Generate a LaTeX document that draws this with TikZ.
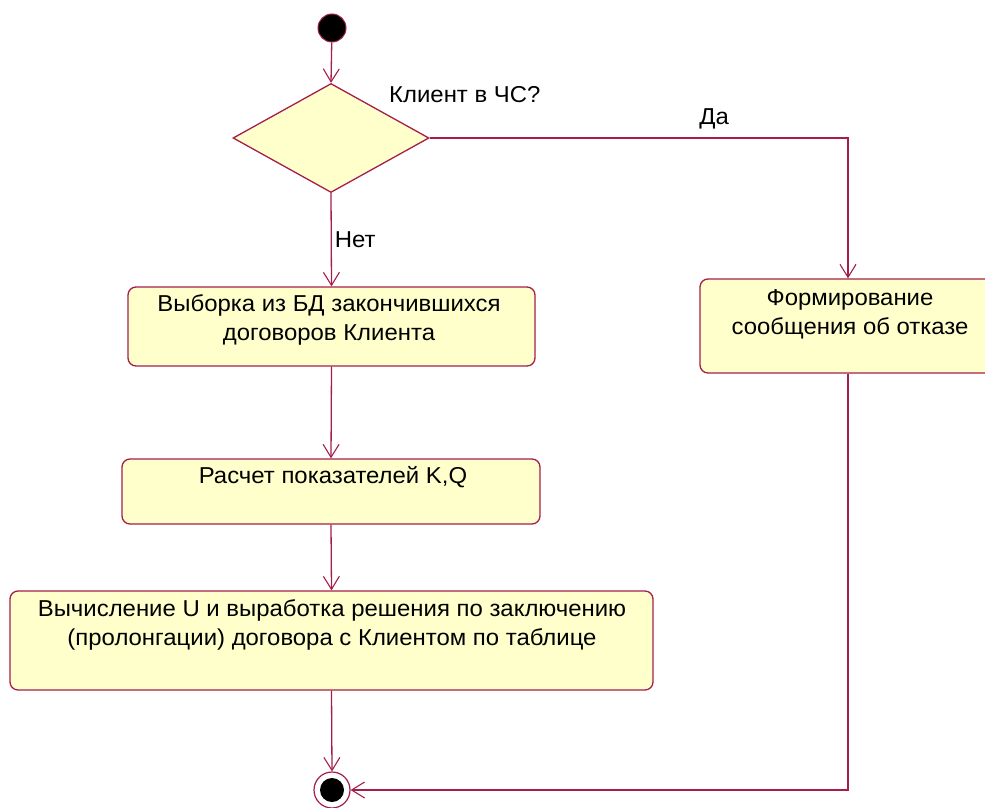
\documentclass[tikz,border=0pt]{standalone}
\usepackage{fontspec}
\setmainfont[FakeStretch=1.04]{Liberation Sans}
\usetikzlibrary{shapes.geometric,arrows.meta}
\definecolor{edge}{RGB}{165,30,75}
\definecolor{boxfill}{RGB}{255,255,204}
\begin{document}
\begin{tikzpicture}[x=1pt,y=-1pt,
  act/.style={draw=edge,fill=boxfill,rounded corners=8pt,line width=1.3pt,inner sep=0pt,rectangle},
  txt/.style={font=\fontsize{23}{29.5}\selectfont,align=center,inner sep=0pt,text=black},
  flow/.style={draw=edge,line width=1.3pt,-{Straight Barb[length=13pt,width=16pt,line width=1.1pt]}},
  wire/.style={draw=edge,line width=1.3pt}]
\path[use as bounding box] (0,0) rectangle (985,808);
\clip (0,0) rectangle (985,808);

% initial and final states
\node[circle,fill=black,draw=edge,line width=1pt,minimum size=28pt,inner sep=0pt] (start) at (332,28) {};
\node[circle,fill=white,draw=edge,line width=1.2pt,minimum size=36pt,inner sep=0pt] (fin) at (332,790) {};
\fill[black] (fin.center) circle (12pt);

% decision
\node[diamond,draw=edge,fill=boxfill,line width=1.3pt,minimum width=196pt,minimum height=109pt,inner sep=0pt] (dec) at (331,138) {};
\node[txt,anchor=west] (q) at (389,95) {Клиент в ЧС?};

% activities
\node[act,minimum width=407pt,minimum height=79pt] (b1) at (331.5,326.5) {};
\node[txt,anchor=north] (b1t) at (329,294) {Выборка из БД закончившихся\\договоров Клиента};

\node[act,minimum width=296pt,minimum height=94pt] (b2) at (848,326) {};
\node[txt,anchor=north] (b2t) at (850,289) {Формирование\\сообщения об отказе};

\node[act,minimum width=418pt,minimum height=65pt] (b3) at (331,491.5) {};
\node[txt,anchor=north] (b3t) at (333,466) {Расчет показателей K,Q};

\node[act,minimum width=643pt,minimum height=99pt] (b4) at (331.5,640.5) {};
\node[txt,anchor=north] (b4t) at (332,599) {Вычисление U и выработка решения по заключению\\(пролонгации) договора с Клиентом по таблице};

% transitions
\draw[flow] (start) -- (dec.north);
\draw[flow] (dec.south) -- node[txt,anchor=west,pos=0.5,xshift=3pt] (no) {Нет} (b1.north);
\draw[flow] (dec.east) -| (b2.north) node[txt,pos=0.34,above=8pt] (yes) {Да};
\draw[flow] (b1.south) -- (b3.north);
\draw[flow] (b3.south) -- (b4.north);
\draw[flow] (b4.south) -- (fin.north);
\draw[flow] (b2.south) |- (fin.east);
\end{tikzpicture}
\end{document}
